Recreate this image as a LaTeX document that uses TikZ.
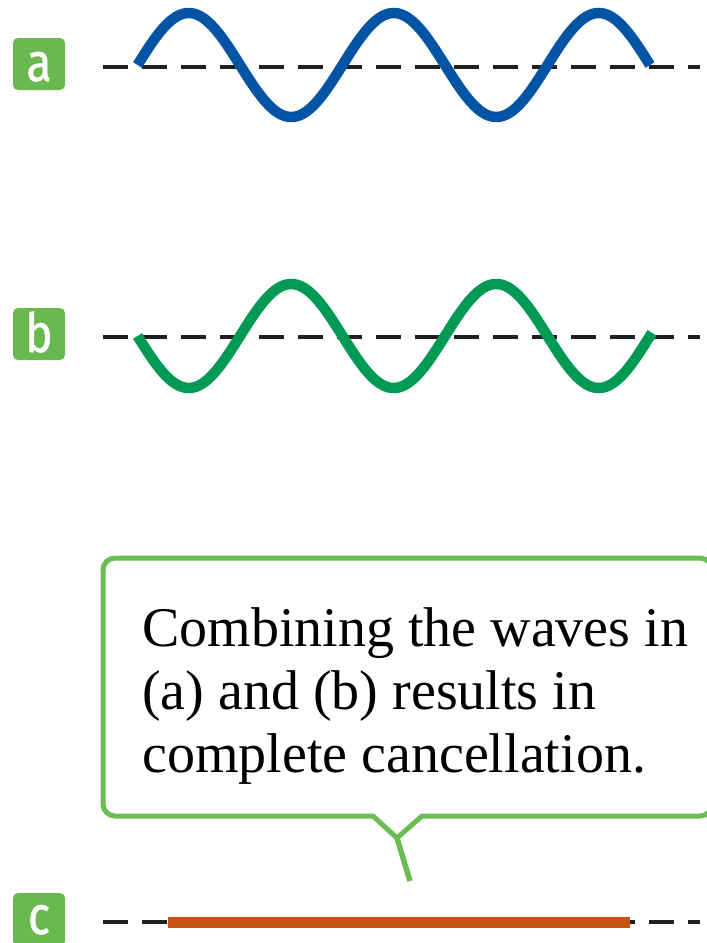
\documentclass[tikz,border=0pt]{standalone}
\usepackage{fontspec}
\setmainfont{Liberation Serif}
\newfontfamily\labelfont[FakeStretch=0.85,FakeBold=1]{Fira Sans}
\definecolor{labelgreen}{RGB}{106,185,80}
\definecolor{calloutgreen}{RGB}{108,188,84}
\definecolor{waveblue}{RGB}{4,84,166}
\definecolor{wavegreen}{RGB}{0,154,84}
\definecolor{flatorange}{RGB}{200,84,20}
\definecolor{dashcol}{RGB}{35,31,32}
\tikzset{
  labelbox/.style={fill=labelgreen, rounded corners=5pt},
  labeltext/.style={anchor=base, inner sep=0pt, text=white, font=\labelfont\fontsize{54}{54}\selectfont},
  axisline/.style={draw=dashcol, line width=3.5pt, dash pattern=on 25pt off 14pt},
  wavea/.style={draw=waveblue, line width=10.5pt, line cap=butt, line join=round},
  waveb/.style={draw=wavegreen, line width=10.5pt, line cap=butt, line join=round},
  flat/.style={draw=flatorange, line width=11pt, line cap=butt},
  callout/.style={draw=calloutgreen, line width=5pt, line join=miter},
  callouttext/.style={anchor=base west, inner sep=0pt, font=\fontsize{56}{63}\selectfont, text=black}
}
\begin{document}
\begin{tikzpicture}[x=1pt, y=-1pt]
\useasboundingbox (0,0) rectangle (707,943);
\clip (0,0) rectangle (707,943);
% labels
\fill[labelbox] (13,38) rectangle (65,90);
\fill[labelbox] (13,308) rectangle (65,360);
\fill[labelbox] (13,893) rectangle (65,946);
\node[labeltext] (la) at (39,81) {a};
\node[labeltext] (lb) at (39,352) {b};
\node[labeltext] (lc) at (39,934) {c};
% axis lines
\coordinate (a0) at (103,67); \coordinate (a1) at (700,67);
\coordinate (b0) at (103,337); \coordinate (b1) at (700,337);
\coordinate (c0) at (103,922); \coordinate (c1) at (700,922);
\draw[axisline] (a0) -- (a1);
\draw[axisline] (b0) -- (b1);
\draw[axisline] (c0) -- (c1);
% waves
\draw[wavea] plot[domain=137.5:650, samples=240, smooth] (\x, {65 - 52*sin((\x-137.5)/205*360)});
\draw[waveb] plot[domain=137.5:652, samples=240, smooth] (\x, {336 + 52*sin((\x-137.5)/205*360)});
% flat result
\coordinate (f0) at (168,922); \coordinate (f1) at (630,922);
\draw[flat] (f0) -- (f1);
% callout
\coordinate (n0) at (373,816); \coordinate (apex) at (397,838); \coordinate (n1) at (422,816);
\coordinate (tip) at (410,881);
\draw[callout] (apex) -- (n1) [rounded corners=12pt] -- (712,816) -- (712,558) -- (103,558) -- (103,816) [sharp corners] -- (n0) -- cycle;
\draw[draw=calloutgreen, line width=5.5pt, line cap=butt] (apex) -- (tip);
\node[callouttext] (t1) at (142,646) {Combining the waves in};
\node[callouttext] (t2) at (142,709) {(a) and (b) results in};
\node[callouttext] (t3) at (142,772) {complete cancellation.};
\end{tikzpicture}
\end{document}
